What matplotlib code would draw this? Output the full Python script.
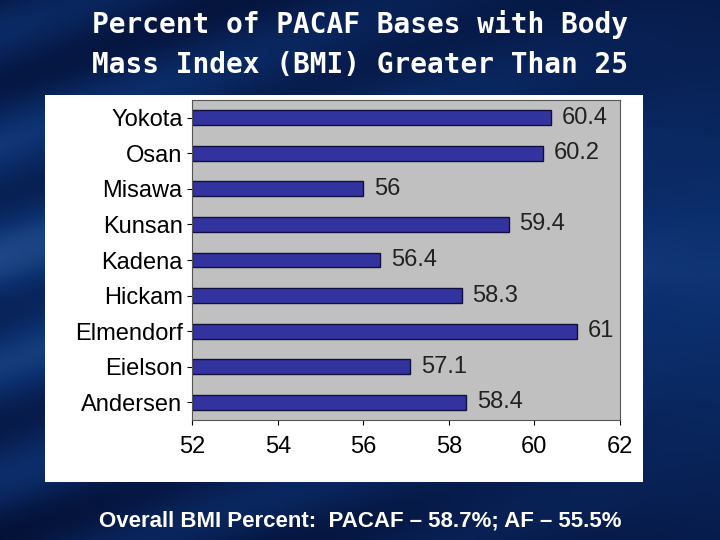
import numpy as np
import matplotlib.pyplot as plt
import matplotlib.patches as patches
from matplotlib.colors import LinearSegmentedColormap

bases = ["Yokota", "Osan", "Misawa", "Kunsan", "Kadena", "Hickam", "Elmendorf", "Eielson", "Andersen"]
values = [60.4, 60.2, 56, 59.4, 56.4, 58.3, 61, 57.1, 58.4]
value_labels = ["60.4", "60.2", "56", "59.4", "56.4", "58.3", "61", "57.1", "58.4"]
xticks = [52, 54, 56, 58, 60, 62]

plt.rcParams['font.family'] = ['Liberation Sans', 'DejaVu Sans']

fig = plt.figure(figsize=(7.2, 5.4), dpi=100)

# dark blue gradient background
bg = fig.add_axes([0, 0, 1, 1])
cmap = LinearSegmentedColormap.from_list('navy', ['#020a2a', '#0c2f6e', '#3c6fb0'])
yy = np.linspace(0, 1, 200)[:, None]
xx = np.linspace(0, 1, 300)[None, :]
grad = 0.55 - np.abs(yy - 0.5) * 0.6 + 0.15 * np.sin(xx * 14 + yy * 30) * (1 - xx)
bg.imshow(grad, cmap=cmap, aspect='auto', extent=[0, 1, 0, 1], vmin=0, vmax=1)
bg.set_axis_off()

fig.text(0.5, 0.955, "Percent of PACAF Bases with Body", ha='center', va='center',
         color='white', fontsize=20, fontweight='bold', family='DejaVu Sans Mono')
fig.text(0.5, 0.88, "Mass Index (BMI) Greater Than 25", ha='center', va='center',
         color='white', fontsize=20, fontweight='bold', family='DejaVu Sans Mono')

# white chart panel
bg.add_patch(patches.Rectangle((0.0625, 0.107), 0.83, 0.717, facecolor='white',
                               edgecolor='none', transform=bg.transAxes))

ax = fig.add_axes([0.267, 0.222, 0.594, 0.593])
ax.set_facecolor('#c0c0c0')
y = np.arange(len(bases))
ax.barh(y, [v - 52 for v in values], left=52, height=0.42, color='#3333a0',
        edgecolor='#101040', linewidth=1)
for yi, v, lab in zip(y, values, value_labels):
    ax.text(v + 0.25, yi, lab, va='center', ha='left', fontsize=17, color='#222222')
ax.set_yticks(y)
ax.set_yticklabels(bases, fontsize=17)
ax.set_ylim(len(bases) - 0.5, -0.5)
ax.set_xlim(52, 62)
ax.set_xticks(xticks)
ax.set_xticklabels([str(t) for t in xticks], fontsize=17)
ax.tick_params(axis='x', pad=8)
for s in ax.spines.values():
    s.set_color('#555555')

fig.text(0.5, 0.035, "Overall BMI Percent:  PACAF \u2013 58.7%; AF \u2013 55.5%", ha='center',
         va='center', color='white', fontsize=16, fontweight='bold')

fig.savefig('out.png', dpi=100)
